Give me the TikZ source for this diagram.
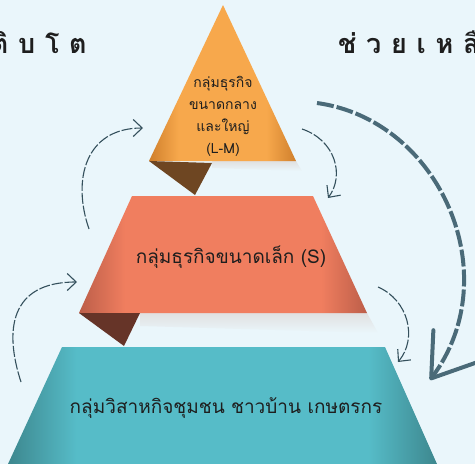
\documentclass[tikz,border=0pt]{standalone}
\usepackage{fontspec}
\newfontfamily\thaifont[Script=Thai]{Loma}
\newfontfamily\thaihead[Script=Thai,LetterSpace=36]{Loma}
\usetikzlibrary{arrows.meta}
\definecolor{bgblue}{HTML}{EAF6FB}
\definecolor{orangemid}{HTML}{F7A84C}
\definecolor{orangeedge}{HTML}{CF7F2C}
\definecolor{flapbrown}{HTML}{6E4622}
\definecolor{salmonmid}{HTML}{F07E5F}
\definecolor{salmonedge}{HTML}{BC5E49}
\definecolor{flapred}{HTML}{663428}
\definecolor{tealmid}{HTML}{56BCC8}
\definecolor{tealedge}{HTML}{3D878E}
\definecolor{slate}{HTML}{34505C}
\definecolor{bigslate}{HTML}{4A6A78}
\definecolor{ink}{HTML}{1E1E1E}
\pgfdeclarehorizontalshading{tealband}{100bp}{color(0bp)=(tealedge); color(25bp)=(tealedge);
  color(33bp)=(tealmid); color(67bp)=(tealmid); color(75bp)=(tealedge); color(100bp)=(tealedge)}
\pgfdeclarehorizontalshading{salmonband}{100bp}{color(0bp)=(salmonedge); color(25bp)=(salmonedge);
  color(33bp)=(salmonmid); color(67bp)=(salmonmid); color(75bp)=(salmonedge); color(100bp)=(salmonedge)}
\pgfdeclarehorizontalshading{orangeband}{100bp}{color(0bp)=(orangeedge); color(25bp)=(orangeedge);
  color(35bp)=(orangemid); color(65bp)=(orangemid); color(75bp)=(orangeedge); color(100bp)=(orangeedge)}
\tikzset{
  lbl/.style={text=ink,font=\thaifont\fontsize{19}{22}\selectfont,inner sep=0pt},
  head/.style={text=ink,font=\thaihead\bfseries\fontsize{27}{30}\selectfont,inner sep=0pt},
  loop/.style={draw=slate,line width=1.1pt,dash pattern=on 11pt off 2pt,
    -{Straight Barb[length=9pt,width=17pt,line width=1.1pt]}},
  bigloop/.style={draw=bigslate,line width=4pt,dash pattern=on 17pt off 3pt,
    -{Straight Barb[length=40pt,width=54pt,line width=4pt,round]}},
  shadowband/.style={top color=black!12,bottom color=bgblue}}

\begin{document}
\begin{tikzpicture}[x=1pt,y=-1pt]
\fill[bgblue] (0,0) rectangle (475,464);
\clip (0,0) rectangle (475,464);
% levels, bottom to top
\shade[shading=tealband,shading angle=0]
  (62,347)--(385,347)--(437,464)--(8,464)--cycle;
\shade[shadowband] (140,313)--(367,313)--(378,333)--(140,326)--cycle;
\shade[shading=salmonband,shading angle=0]
  (132,196)--(313,196)--(367,313)--(79,313)--cycle;
\fill[flapred] (79,313)--(140,313)--(124,346)--cycle;
\shade[shadowband] (212,161)--(296,161)--(302,171)--(212,168)--cycle;
\shade[shading=orangeband,shading angle=0]
  (223,5)--(296,161)--(149,161)--cycle;
\fill[flapbrown] (149,161)--(212,163)--(195,195)--cycle;
% labels
\node[lbl,align=center,font=\thaifont\fontsize{14}{22}\selectfont] (large) at (223,116)
  {กลุ่มธุรกิจ\\ขนาดกลาง\\และใหญ่\\(L-M)};
\node[lbl] (small) at (231,257) {กลุ่มธุรกิจขนาดเล็ก (S)};
\node[lbl] (base) at (226,408) {กลุ่มวิสาหกิจชุมชน ชาวบ้าน เกษตรกร};
\node[head,anchor=east] (grow) at (87,42) {เติบโต};
\node[head,anchor=west] (help) at (338,42) {ช่วยเหลือ};
% loop arrows
\coordinate (up1s) at (21,382); \coordinate (up1e) at (77,282);
\coordinate (up2s) at (89,229); \coordinate (up2e) at (143,128);
\coordinate (dn1s) at (302,129); \coordinate (dn1e) at (328,198);
\coordinate (dn2s) at (378,287); \coordinate (dn2e) at (398,362);
\coordinate (bigs) at (317,103); \coordinate (bige) at (430,380);
\draw[loop] (up1s) .. controls (4,330) and (10,282) .. (up1e);
\draw[loop] (up2s) .. controls (72,180) and (85,128) .. (up2e);
\draw[loop] (dn1s) .. controls (335,140) and (345,175) .. (dn1e);
\draw[loop] (dn2s) .. controls (408,300) and (418,338) .. (dn2e);
\draw[bigloop] (bigs) .. controls (440,120) and (508,275) .. (bige);
\end{tikzpicture}
\end{document}
